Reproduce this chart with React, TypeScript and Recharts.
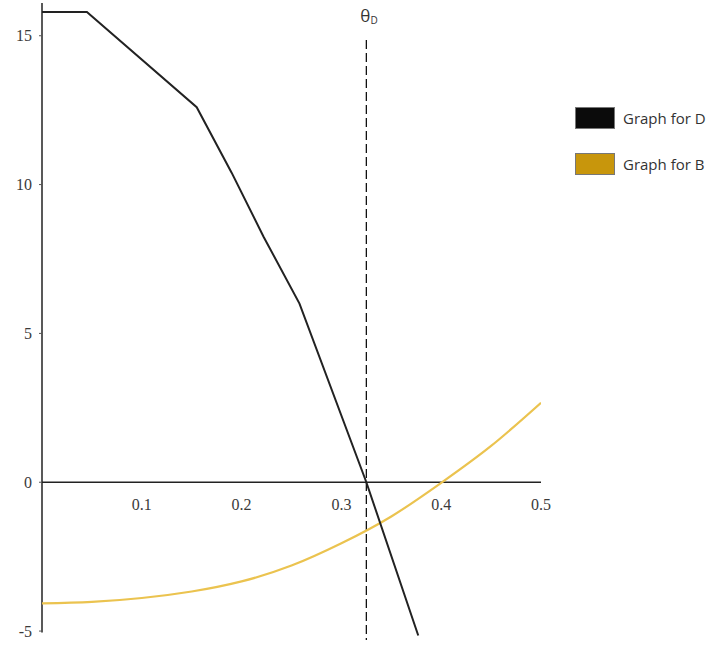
import React from 'react';
import {
  LineChart, Line, XAxis, YAxis, ReferenceLine, ReferenceDot, Legend,
} from 'recharts';

// theta values and curve values
const thetaD = [0, 0.045, 0.155, 0.19, 0.222, 0.258, 0.325, 0.377];
const graphD = [15.8, 15.8, 12.6, 10.4, 8.25, 6.0, 0, -5.15];

const thetaB = [0, 0.05, 0.1, 0.15, 0.2, 0.25, 0.3, 0.35, 0.4, 0.45, 0.5];
const graphB = [-4.07, -4.02, -3.89, -3.67, -3.33, -2.8, -2.05, -1.15, -0.02, 1.22, 2.67];

const xTicks = [0.1, 0.2, 0.3, 0.4, 0.5];
const yTicks = [-5, 0, 5, 10, 15];
const thetaMark = 0.325;

const dData = thetaD.map((x, i) => ({ x, y: graphD[i] }));
const bData = thetaB.map((x, i) => ({ x, y: graphB[i] }));

const SWATCH: Record<string, string> = {
  'Graph for D': '#0b0b0b',
  'Graph for B': '#c8960c',
};

const LegendBox = ({ payload }: any) => (
  <div style={{ fontFamily: '"Open Sans", sans-serif', fontSize: 15, color: '#333' }}>
    {(payload || []).map((p: any) => (
      <div key={p.value} style={{ display: 'flex', alignItems: 'center', height: 23, marginBottom: 23 }}>
        <span
          style={{
            display: 'inline-block', width: 38, height: 20, background: SWATCH[p.value],
            border: '1px solid #777', marginRight: 8,
          }}
        />
        <span>{p.value}</span>
      </div>
    ))}
  </div>
);

const ThetaLabel = (props: any) => {
  const { x, y } = props.viewBox;
  return (
    <text x={x - 6} y={y} fill="#333" fontFamily='"Open Sans", sans-serif' fontSize={17}>
      θ<tspan fontSize={10} dy={2}>D</tspan>
    </text>
  );
};

export default function App() {
  return (
    <div style={{ position: 'absolute', left: 0, top: 0, background: '#fff' }}>
      <LineChart width={728} height={651} margin={{ top: 3, right: 187, bottom: 11, left: 0 }}>
        <XAxis type="number" dataKey="x" domain={[0, 0.5]} hide allowDataOverflow />
        <YAxis
          type="number"
          domain={[-5.3, 16.1]}
          ticks={yTicks}
          width={42}
          axisLine={false}
          tickSize={3}
          tickMargin={7}
          tickLine={{ stroke: '#555' }}
          tick={{ fill: '#3a3a3a', fontSize: 16, fontFamily: '"Liberation Serif", serif' }}
          allowDataOverflow
        />
        <ReferenceLine segment={[{ x: 0, y: -5.05 }, { x: 0, y: 16.1 }]} stroke="#222" strokeWidth={1.5} />
        <ReferenceLine y={0} stroke="#222" strokeWidth={1.5} />
        <ReferenceLine
          segment={[{ x: thetaMark, y: 14.86 }, { x: thetaMark, y: -5.3 }]}
          stroke="#111"
          strokeWidth={1.3}
          strokeDasharray="9 4"
        />
        <ReferenceDot x={thetaMark} y={15.46} r={0} stroke="none" label={<ThetaLabel />} />
        {xTicks.map((t) => (
          <ReferenceDot
            key={t}
            x={t}
            y={0}
            r={0}
            stroke="none"
            label={{
              value: String(t), position: 'bottom', offset: 16, fill: '#3a3a3a', fontSize: 16,
              fontFamily: '"Liberation Serif", serif',
            }}
          />
        ))}
        <Line
          data={bData}
          dataKey="y"
          name="Graph for B"
          type="natural"
          stroke="#ebc34f"
          strokeWidth={2.2}
          dot={false}
          isAnimationActive={false}
        />
        <Line
          data={dData}
          dataKey="y"
          name="Graph for D"
          type="linear"
          stroke="#222"
          strokeWidth={2}
          dot={false}
          isAnimationActive={false}
        />
        <Legend
          layout="horizontal"
          verticalAlign="middle"
          align="center"
          content={(p: any) => <LegendBox payload={[...(p.payload || [])].reverse()} />}
          wrapperStyle={{ position: 'absolute', left: 575, top: 106, width: 160, height: 80 }}
        />
      </LineChart>
    </div>
  );
}
